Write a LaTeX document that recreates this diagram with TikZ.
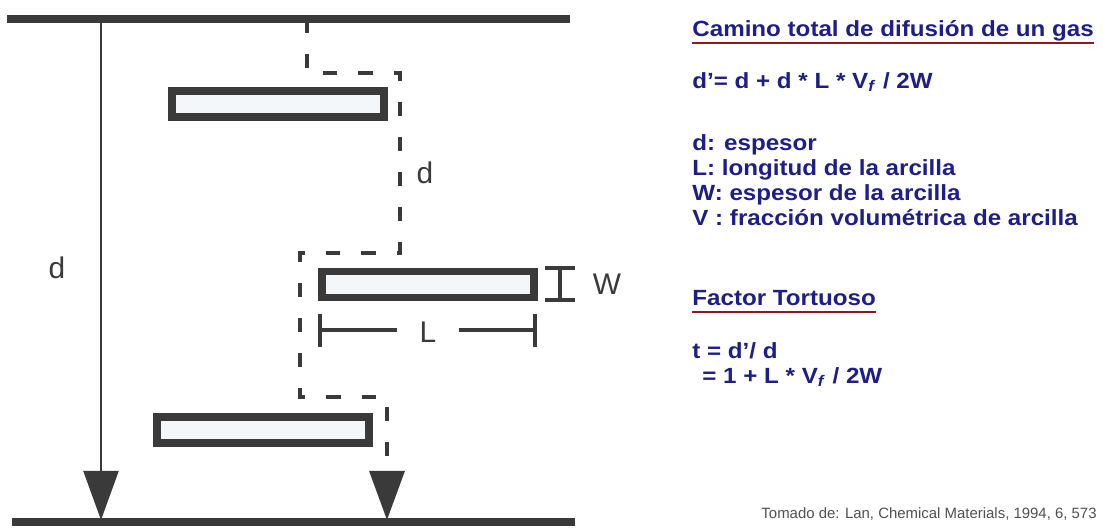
\documentclass[tikz,border=0pt]{standalone}
\usepackage{fontspec}
\setmainfont{Liberation Sans}
\usetikzlibrary{arrows.meta, positioning, calc}
\definecolor{inkgray}{HTML}{3A3A3A}
\definecolor{slideblue}{HTML}{1E1E88}
\definecolor{rulered}{HTML}{8C1C1C}
\definecolor{clayfill}{HTML}{F3F7FA}
\definecolor{citegray}{HTML}{505050}

\begin{document}
\begin{tikzpicture}[x=0.2mm, y=-0.2mm,
    clay/.style={draw=inkgray, line width=4.5pt, fill=clayfill,
                 minimum width=42.4mm, minimum height=5.2mm, inner sep=0pt},
    plate/.style={inkgray, line width=4.5pt},
    gaspath/.style={inkgray, line width=1.8pt, dash pattern=on 8pt off 12pt},
    dimline/.style={inkgray, line width=2.2pt},
    cone/.style={-{Triangle[length=28pt, width=20pt]}},
    lbl/.style={text=inkgray, font=\fontsize{17}{20}\selectfont, inner sep=0pt},
    head/.style={text=slideblue, font=\fontsize{12.5}{15}\selectfont\bfseries,
                 inner sep=0pt, anchor=base west, xscale=1.1},
    uline/.style={rulered, line width=1.5pt}
  ]
  \useasboundingbox (0,0) rectangle (1103,527);

  \coordinate (topL) at (7,19);
  \coordinate (topR) at (570,19);
  \coordinate (botL) at (12,522);
  \coordinate (botR) at (575,522);
  \draw[plate] (topL) -- (topR);
  \draw[plate] (botL) -- (botR);

  \node[clay] (clay1) at (278,104) {};
  \node[clay] (clay2) at (428,284.5) {};
  \node[clay] (clay3) at (263,430) {};

  \coordinate (s0) at (101,19);
  \coordinate (s1) at (101,520);
  \draw[inkgray, line width=1.2pt, cone] (s0) -- (s1);
  \node[lbl] (dleft) at (57,268) {d};

  \coordinate (p0) at (307,19);
  \coordinate (p1) at (307,73);
  \coordinate (p2) at (400,73);
  \coordinate (p3) at (400,253);
  \coordinate (p4) at (300,253);
  \coordinate (p5) at (300,397);
  \coordinate (p6) at (387,397);
  \coordinate (p7) at (387,520);
  \draw[gaspath, cone] (p0) -- (p1) -- (p2) -- (p3) -- (p4) -- (p5) -- (p6) -- (p7);
  \node[lbl] (dright) at (425,173) {d};

  \coordinate (w1) at (545,268);
  \coordinate (w2) at (575,268);
  \coordinate (w3) at (545,300);
  \coordinate (w4) at (575,300);
  \draw[dimline] (w1) -- (w2);
  \draw[dimline] (w3) -- (w4);
  \draw[dimline] ($(w1)!0.5!(w2)$) -- ($(w3)!0.5!(w4)$);
  \node[lbl] (wlbl) at (607,284) {W};

  \node[lbl] (llbl) at (428,332) {L};
  \coordinate (l1) at (320,330);
  \coordinate (l2) at (535,330);
  \draw[dimline] (320,314) -- (320,347);
  \draw[dimline] (535,314) -- (535,347);
  \draw[dimline] (l1) -- ($(llbl.west)+(-22,-2)$);
  \draw[dimline] ($(llbl.east)+(22,-2)$) -- (l2);

  \node[head] (title) at (692,36) {Camino total de difusión de un gas};
  \draw[uline] ($(title.base west)+(0,7)$) -- ($(title.base east)+(0,7)$);
  \node[head] (dprime) at (692,88) {d’= d + d * L * V\textsubscript{\textit{f}} / 2W};
  \node[head] (ld) at (692,150) {d: espesor};
  \node[head] (ll) at (692,175) {L: longitud de la arcilla};
  \node[head] (lw) at (692,200) {W: espesor de la arcilla};
  \node[head] (lv) at (692,225) {V : fracción volumétrica de arcilla};

  \node[head] (factor) at (692,305) {Factor Tortuoso};
  \draw[uline] ($(factor.base west)+(0,7)$) -- ($(factor.base east)+(0,7)$);
  \node[head] (tdef) at (692,358) {t = d’/ d};
  \node[head] (tval) at (702,383) {= 1 + L * V\textsubscript{\textit{f}} / 2W};

  \node[text=citegray, font=\fontsize{8.5}{10}\selectfont, inner sep=0pt,
        anchor=base east] (cite) at (1097,518)
        {Tomado de: Lan, Chemical Materials, 1994, 6, 573};
\end{tikzpicture}
\end{document}
